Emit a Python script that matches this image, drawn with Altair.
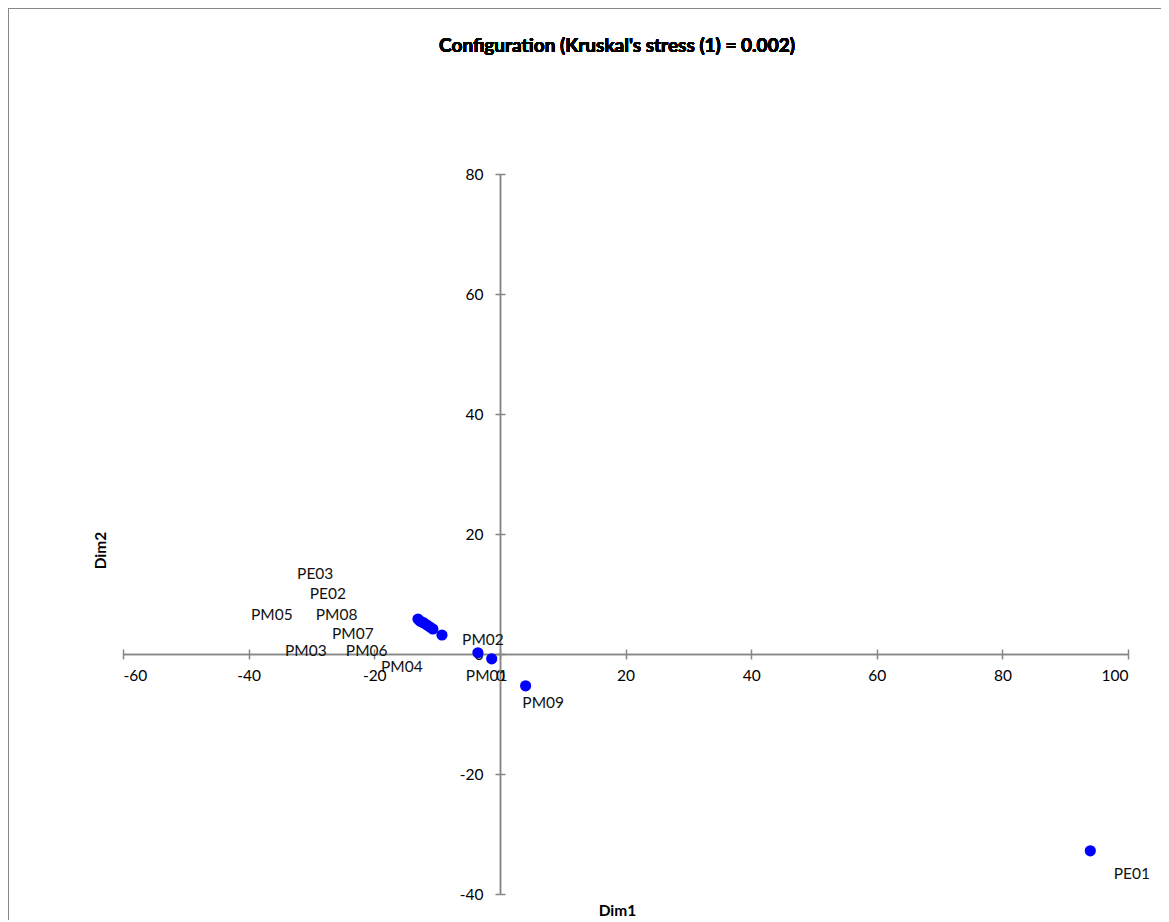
import altair as alt
import pandas as pd

names = ["PE01", "PE02", "PE03", "PM01", "PM02", "PM03",
         "PM04", "PM05", "PM06", "PM07", "PM08", "PM09"]
dim1 = [94.0, -12.72, -13.04, -1.3, -3.5, -11.13,
        -9.22, -12.40, -10.67, -11.61, -12.08, 4.1]
dim2 = [-32.8, 5.5, 5.83, -0.8, 0.2, 4.5,
        3.17, 5.33, 4.17, 4.83, 5.17, -5.3]
label_dim1 = [100.6, -27.4, -29.4, -2.1, -2.7, -30.9,
              -15.6, -36.3, -21.2, -23.4, -26.0, 6.9]
label_dim2 = [-36.7, 10.0, 13.3, -3.7, 2.3, 0.5,
              -2.2, 6.5, 0.5, 3.3, 6.5, -8.2]
x_ticks = [-60, -40, -20, 0, 20, 40, 60, 80, 100]
y_ticks = [-40, -20, 0, 20, 40, 60, 80]
title_text = "Configuration (Kruskal's stress (1) = 0.002)"

df = pd.DataFrame({"name": names, "Dim1": dim1, "Dim2": dim2,
                   "lx": label_dim1, "ly": label_dim2})

W, H = 1005, 720
FONT = "Lato"
AX = "#868686"

xs = alt.Scale(domain=[-60, 100], nice=False, zero=False)
ys = alt.Scale(domain=[-40, 80], nice=False, zero=False)

common_axis = dict(grid=False, domainColor=AX, domainWidth=1.5, tickColor=AX,
                   tickWidth=1.5, tickSize=5, labelFont=FONT, labelFontSize=15.5,
                   labelColor="#000000", titleFont=FONT, titleFontSize=15.5,
                   titleFontWeight="bold", titleColor="#000000",
                   labelExpr="toString(datum.value)")

points = alt.Chart(df).mark_circle(size=125, color="#0000FF", opacity=1).encode(
    x=alt.X("Dim1:Q", scale=xs,
            axis=alt.Axis(orient="bottom", offset=-240, values=x_ticks,
                          labelPadding=9, title="Dim1", titleX=494, titleY=256,
                          titleBaseline="middle", **common_axis)),
    y=alt.Y("Dim2:Q", scale=ys,
            axis=alt.Axis(orient="left", offset=-377, values=y_ticks,
                          labelPadding=12, title="Dim2", titleX=-400, titleY=376,
                          titleBaseline="middle", **common_axis)),
)

labels = alt.Chart(df).mark_text(font=FONT, fontSize=15.5, color="#111111",
                                 align="center", baseline="middle").encode(
    x=alt.X("lx:Q", scale=xs,
            axis=alt.Axis(orient="top", offset=-480, values=x_ticks, labels=False,
                          title=None, **common_axis)),
    y=alt.Y("ly:Q", scale=ys,
            axis=alt.Axis(orient="right", offset=-628, values=y_ticks, labels=False,
                          title=None, **common_axis)),
    text="name:N",
)

border_left = alt.Chart(df).mark_rule(color="#888888", strokeWidth=2).encode(
    x=alt.value(-115), y=alt.value(-166), y2=alt.value(1200))
border_top = alt.Chart(df).mark_rule(color="#888888", strokeWidth=2).encode(
    x=alt.value(-115), x2=alt.value(1500), y=alt.value(-166))

title = alt.Chart(df).mark_text(font=FONT, fontSize=19, fontWeight="bold",
                                color="#000000", align="center",
                                baseline="middle").encode(
    x=alt.value(494), y=alt.value(-128), text=alt.value(title_text))

chart = alt.layer(border_left, border_top, title, points, labels).resolve_axis(
    x="independent", y="independent"
).properties(
    width=W, height=H,
    autosize=alt.AutoSizeParams(type="none"),
    padding={"left": 115, "top": 166, "right": 33, "bottom": 26},
).configure_view(stroke=None)

chart.save("out.html", embed_options={"renderer": "svg", "actions": False})
